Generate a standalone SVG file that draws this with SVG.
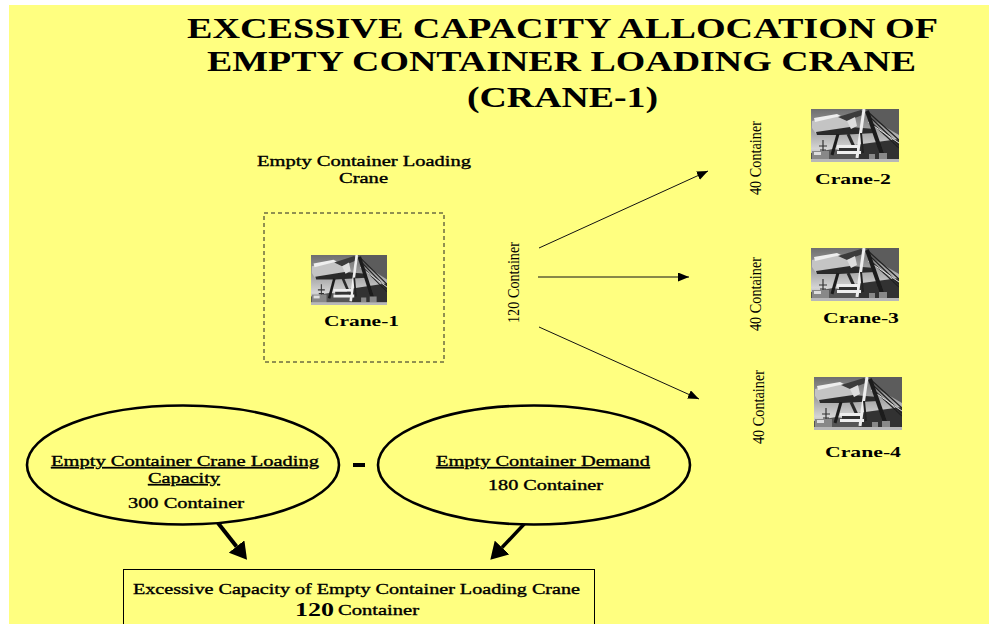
<svg xmlns="http://www.w3.org/2000/svg" width="989" height="624" viewBox="0 0 989 624">
<style>
text{font-family:"Liberation Serif","Times New Roman",serif;fill:#000}
.title{font-size:30px;font-weight:bold}
.lab{font-size:14px;stroke:#000;stroke-width:.35}
.cr{font-size:15px;font-weight:bold}
.rot{font-size:16px}
.thin{stroke:#111;stroke-width:1;fill:none}
.thick{stroke:#000;fill:none}
.ell{stroke:#000;stroke-width:2.6;fill:#ffff80}
</style>
<defs>
<marker id="ah" markerWidth="12" markerHeight="10" refX="11" refY="4.500" orient="auto" markerUnits="userSpaceOnUse"><path d="M0 0L11 4.500L0 9Z" fill="#000"/></marker>
<marker id="ahb" markerWidth="18" markerHeight="20" refX="0" refY="10" orient="auto" markerUnits="userSpaceOnUse"><path d="M0 0L17 10L0 20Z" fill="#000"/></marker>
<linearGradient id="sky" x1="0" y1="0" x2="0" y2="1"><stop offset="0" stop-color="#6e6e6e"/><stop offset=".45" stop-color="#a8a8a8"/><stop offset=".75" stop-color="#d4d4d4"/><stop offset="1" stop-color="#999"/></linearGradient>
<filter id="soft" x="0" y="0" width="1" height="1"><feGaussianBlur stdDeviation=".45"/></filter>
<symbol id="crane" viewBox="0 0 88 53" preserveAspectRatio="none">
<g filter="url(#soft)">
<rect width="88" height="53" fill="url(#sky)"/>
<path d="M52 0H88V26L64 12Z" fill="#5c5c5c"/>
<path d="M44 36L88 30V53H44Z" fill="#333"/>
<path d="M0 44L22 40L46 44V53H0Z" fill="#555"/>
<path d="M1 12L26 6L40 13L39 21L5 25L1 19Z" fill="#c4c4c4"/>
<path d="M3 9L26 5L30 7L4 13Z" fill="#eee"/>
<path d="M5 23L39 18L64 20L64 24L28 26L6 26Z" fill="#2c2c2c"/>
<path d="M27 8L50 1L54 5L36 12Z" fill="#3a3a3a"/>
<path d="M36 12L44 8L46 17L40 20Z" fill="#ddd"/>
<path d="M56 2L88 31M60 9L88 36M62 15L88 39" stroke="#222" stroke-width="1.2" fill="none"/>
<path d="M57 13L88 34" stroke="#ddd" stroke-width="1" fill="none"/>
<path d="M56 2L72 48" stroke="#1c1c1c" stroke-width="4" fill="none"/>
<path d="M53 0L46 49" stroke="#eee" stroke-width="3" fill="none"/>
<path d="M27 25L21 46" stroke="#1e1e1e" stroke-width="3" fill="none"/>
<path d="M37 25L44 40" stroke="#2a2a2a" stroke-width="3" fill="none"/>
<path d="M50 24L52 44" stroke="#222" stroke-width="2" fill="none"/>
<path d="M26 36H48V39H26ZM26 42H50V45H26Z" fill="#eee"/>
<path d="M28 39H46V42H28Z" fill="#333"/>
<path d="M12 31V47M8 37H16M9 41H15" stroke="#333" stroke-width="1.200" fill="none"/>
<path d="M1 42H18V51H1Z" fill="#888"/>
<path d="M3 43H10V46H3Z" fill="#ddd"/>
<path d="M68 44H76V50H68ZM58 45H64V50H58Z" fill="#888"/>
<rect x="0" y="50" width="88" height="3" fill="#b8b8b8"/>
</g>
</symbol>
</defs>
<rect width="989" height="624" fill="#fff"/>
<rect x="9" y="5" width="980" height="619" fill="#ffff80"/>

<g id="title">
<text class="title" x="187" y="38" textLength="751" lengthAdjust="spacingAndGlyphs">EXCESSIVE CAPACITY ALLOCATION OF</text>
<text class="title" x="207" y="71" textLength="709" lengthAdjust="spacingAndGlyphs">EMPTY CONTAINER LOADING CRANE</text>
<text class="title" x="467" y="107" textLength="191" lengthAdjust="spacingAndGlyphs">(CRANE-1)</text>
</g>

<g id="connectors">
<line class="thin" x1="539" y1="248" x2="708" y2="171" marker-end="url(#ah)"/>
<line class="thin" x1="538" y1="277" x2="689" y2="277" marker-end="url(#ah)"/>
<line class="thin" x1="539" y1="327" x2="699" y2="399" marker-end="url(#ah)"/>
<line class="thick" x1="218" y1="523" x2="236.500" y2="546.500" marker-end="url(#ahb)" stroke-width="4"/>
<line class="thick" x1="528" y1="520" x2="502" y2="547.500" marker-end="url(#ahb)" stroke-width="3.400"/>
</g>

<g id="crane-1-group">
<text class="lab" x="257" y="166" textLength="214" lengthAdjust="spacingAndGlyphs">Empty Container Loading</text>
<text class="lab" x="339" y="183" textLength="49" lengthAdjust="spacingAndGlyphs">Crane</text>
<rect x="264" y="213" width="180" height="149" fill="none" stroke="#222" stroke-width="1" stroke-dasharray="4 3"/>
</g>
<g id="crane-1">
<use href="#crane" x="311" y="255" width="76" height="50"/>
<text class="cr" x="324" y="326" textLength="75" lengthAdjust="spacingAndGlyphs">Crane-1</text>
</g>
<g id="crane-2">
<use href="#crane" x="811" y="109" width="88" height="53"/>
<text class="cr" x="815" y="184" textLength="76" lengthAdjust="spacingAndGlyphs">Crane-2</text>
</g>
<g id="crane-3">
<use href="#crane" x="811" y="248" width="88" height="53"/>
<text class="cr" x="823" y="323" textLength="76" lengthAdjust="spacingAndGlyphs">Crane-3</text>
</g>
<g id="crane-4">
<use href="#crane" x="814" y="377" width="88" height="53"/>
<text class="cr" x="825" y="457" textLength="76" lengthAdjust="spacingAndGlyphs">Crane-4</text>
</g>

<g id="rotated-labels">
<text class="rot" transform="translate(519,323) rotate(-90)" textLength="81" lengthAdjust="spacingAndGlyphs">120 Container</text>
<text class="rot" transform="translate(761,195) rotate(-90)" textLength="74" lengthAdjust="spacingAndGlyphs">40 Container</text>
<text class="rot" transform="translate(761,331) rotate(-90)" textLength="74" lengthAdjust="spacingAndGlyphs">40 Container</text>
<text class="rot" transform="translate(764,444) rotate(-90)" textLength="74" lengthAdjust="spacingAndGlyphs">40 Container</text>
</g>

<g id="capacity">
<ellipse class="ell" cx="183" cy="465" rx="156" ry="59.500"/>
<text class="lab" x="51" y="466" textLength="268" lengthAdjust="spacingAndGlyphs" text-decoration="underline">Empty Container Crane Loading</text>
<text class="lab" x="148" y="483" textLength="72" lengthAdjust="spacingAndGlyphs" text-decoration="underline">Capacity</text>
<text class="lab" x="128" y="508" textLength="116" lengthAdjust="spacingAndGlyphs">300 Container</text>
</g>
<g id="minus"><rect x="353" y="463" width="12" height="4" fill="#000"/></g>
<g id="demand">
<ellipse class="ell" cx="534" cy="465" rx="156" ry="59.500"/>
<text class="lab" x="436" y="466" textLength="214" lengthAdjust="spacingAndGlyphs" text-decoration="underline">Empty Container Demand</text>
<text class="lab" x="488" y="490" textLength="115" lengthAdjust="spacingAndGlyphs">180 Container</text>
</g>
<g id="excess">
<rect x="123.500" y="569.500" width="471" height="60" fill="#ffff80" stroke="#000" stroke-width="1"/>
<text class="lab" x="133" y="594" textLength="447" lengthAdjust="spacingAndGlyphs">Excessive Capacity of Empty Container Loading Crane</text>
<text x="295" y="616" font-size="18" font-weight="bold" textLength="39" lengthAdjust="spacingAndGlyphs">120</text>
<text class="lab" x="338" y="615" textLength="81" lengthAdjust="spacingAndGlyphs">Container</text>
</g>
</svg>
